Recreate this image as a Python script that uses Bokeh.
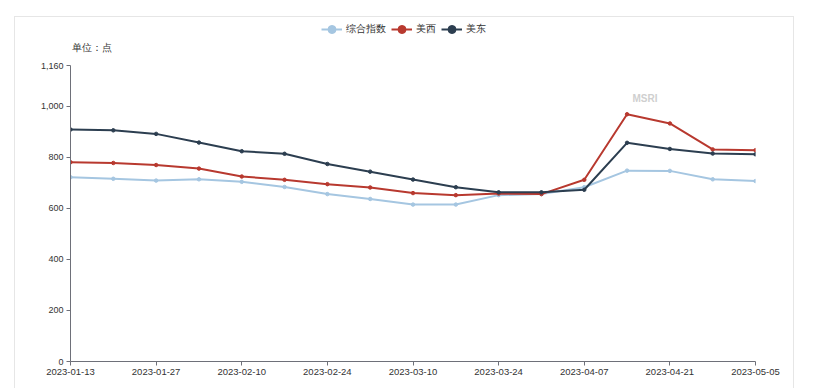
import pandas as pd
from bokeh.plotting import figure
from bokeh.models import (Range1d, FixedTicker, DatetimeTickFormatter, NumeralTickFormatter,
                          Legend, LegendItem, ColumnDataSource, Label)
from bokeh.embed import file_html
from bokeh.resources import INLINE

# ---- data ----
dates = ["2023-01-13", "2023-01-20", "2023-01-27", "2023-02-03", "2023-02-10", "2023-02-17",
         "2023-02-24", "2023-03-03", "2023-03-10", "2023-03-17", "2023-03-24", "2023-03-31",
         "2023-04-07", "2023-04-14", "2023-04-21", "2023-04-28", "2023-05-05"]
tick_dates = ["2023-01-13", "2023-01-27", "2023-02-10", "2023-02-24", "2023-03-10",
              "2023-03-24", "2023-04-07", "2023-04-21", "2023-05-05"]
composite = [722, 716, 709, 714, 704, 684, 656, 637, 615, 615, 652, 656, 683, 748, 747, 714, 707]
us_west = [781, 778, 770, 756, 725, 712, 695, 682, 660, 652, 658, 656, 712, 969, 933, 831, 828]
us_east = [909, 906, 892, 858, 824, 814, 774, 744, 713, 683, 663, 663, 673, 857, 833, 815, 812]
series_names = ["综合指数", "美西", "美东"]
y_ticks = [0, 200, 400, 600, 800, 1000, 1160]
y_max = 1160
unit_text = "单位：点"

colors = ["#a5c6e1", "#b8392f", "#2c3e50"]
FONT = "Liberation Sans"

x = pd.to_datetime(dates)
ticks_ms = [pd.Timestamp(d).value // 10**6 for d in tick_dates]
t0, t1 = ticks_ms[0], ticks_ms[-1]

# layout: plot area 685px wide, 296px tall for 0..1160;
# frame extended 47px upward to host the unit label and legend
PLOT_W, PLOT_H, EXT_T = 685, 296, 47
units_per_px = y_max / PLOT_H

p = figure(frame_width=PLOT_W, frame_height=PLOT_H + EXT_T, x_axis_type="datetime",
           output_backend="svg", toolbar_location=None, title_location=None,
           x_range=Range1d(t0, t1),
           y_range=Range1d(0, y_max + EXT_T * units_per_px),
           min_border_left=55, min_border_right=38, min_border_top=1, min_border_bottom=36)
p.margin = (16, 0, 0, 14)
p.styles = {"border-left": "1px solid #e6e6e6", "border-top": "1px solid #e6e6e6",
            "border-right": "1px solid #e6e6e6"}
p.outline_line_color = None
p.xgrid.visible = False
p.ygrid.visible = False

renderers = []
for vals, c in zip([composite, us_west, us_east], colors):
    src = ColumnDataSource(dict(x=x, y=vals))
    ln = p.line("x", "y", source=src, line_color=c, line_width=2)
    sc = p.scatter("x", "y", source=src, size=3.5, fill_color=c, line_color=c)
    renderers.append([ln, sc])

# axes
for ax in [p.xaxis[0], p.yaxis[0]]:
    ax.axis_line_color = "#6e7079"
    ax.major_tick_line_color = "#6e7079"
    ax.major_tick_in = 0
    ax.major_tick_out = 4
    ax.minor_tick_line_color = None
    ax.major_label_text_color = "#333333"
    ax.major_label_text_font = FONT
    ax.major_label_standoff = 3
p.xaxis.major_label_text_font_size = "9.5px"
p.yaxis.major_label_text_font_size = "9px"

p.xaxis.ticker = FixedTicker(ticks=ticks_ms)
fmt = "%Y-%m-%d"
p.xaxis.formatter = DatetimeTickFormatter(days=fmt, months=fmt, years=fmt, hours=fmt,
                                         hourmin=fmt, minutes=fmt, minsec=fmt, seconds=fmt,
                                         milliseconds=fmt, microseconds=fmt)
p.yaxis.ticker = FixedTicker(ticks=y_ticks)
p.yaxis.formatter = NumeralTickFormatter(format="0,0")
p.yaxis.bounds = (0, y_max)

# unit label
p.add_layout(Label(x=1, y=PLOT_H + 18, x_units="screen", y_units="screen", text=unit_text,
                   text_font_size="9.5px", text_color="#333333", text_font=FONT,
                   text_baseline="middle"))

# watermark
p.add_layout(Label(x=562, y=PLOT_H - 33, x_units="screen", y_units="screen",
                   text="MSRI", text_font_size="10px", text_font_style="bold",
                   text_color="#cfcfcf", text_font=FONT, text_baseline="middle"))

legend = Legend(items=[LegendItem(label=n, renderers=r) for n, r in zip(series_names, renderers)],
                orientation="horizontal", location=(251, PLOT_H + 26),
                border_line_alpha=0, background_fill_alpha=0,
                label_text_font_size="9.5px", label_text_color="#333333", label_text_font=FONT,
                glyph_width=21, glyph_height=20, spacing=5, padding=0, margin=0,
                label_standoff=4)
p.add_layout(legend, "center")

open("out.html", "w").write(file_html(p, INLINE))
